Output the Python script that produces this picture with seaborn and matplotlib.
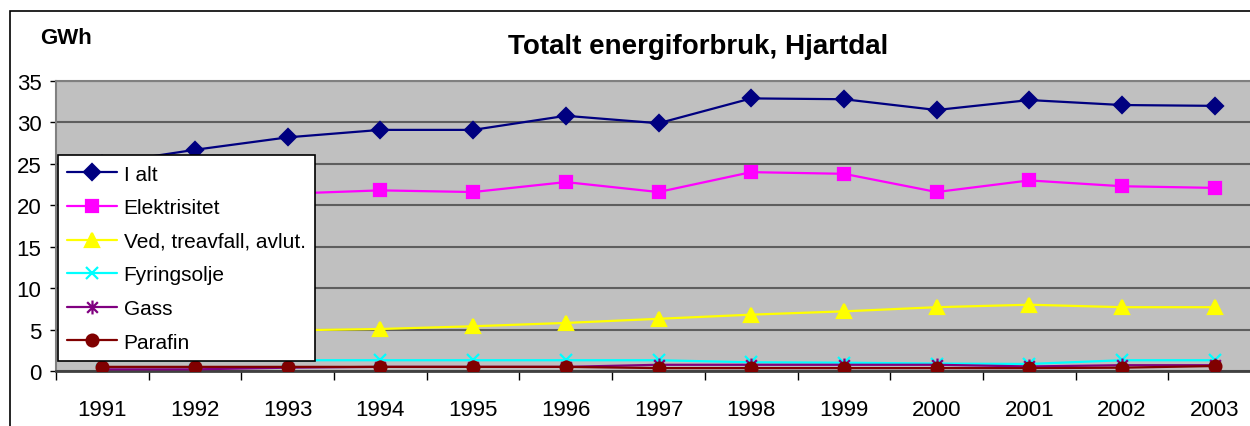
import numpy as np
import seaborn as sns
import matplotlib.pyplot as plt
from matplotlib.patches import Rectangle
from matplotlib.path import Path

years = [1991, 1992, 1993, 1994, 1995, 1996, 1997, 1998, 1999, 2000, 2001, 2002, 2003]
year_labels = [str(y) for y in years]

i_alt = [25.0, 26.7, 28.2, 29.1, 29.1, 30.8, 29.9, 32.9, 32.8, 31.5, 32.7, 32.1, 32.0]
elektrisitet = [19.0, 20.0, 21.4, 21.8, 21.6, 22.8, 21.6, 24.0, 23.8, 21.6, 23.0, 22.3, 22.1]
ved = [4.5, 4.7, 4.9, 5.07, 5.4, 5.8, 6.3, 6.8, 7.2, 7.7, 8.0, 7.7, 7.7]
fyringsolje = [1.3, 1.3, 1.3, 1.3, 1.3, 1.3, 1.3, 1.05, 1.0, 0.9, 0.85, 1.3, 1.3]
gass = [0.2, 0.2, 0.4, 0.5, 0.5, 0.5, 0.75, 0.75, 0.75, 0.75, 0.55, 0.7, 0.7]
parafin = [0.5, 0.5, 0.5, 0.5, 0.5, 0.5, 0.35, 0.35, 0.35, 0.35, 0.35, 0.4, 0.6]

# excel style asterisk: an x with a vertical bar through it
asterisk = Path([(-1, -1), (1, 1), (-1, 1), (1, -1), (0, -1.3), (0, 1.3)],
                [Path.MOVETO, Path.LINETO, Path.MOVETO, Path.LINETO, Path.MOVETO, Path.LINETO])

series = [
    ("I alt", i_alt, "#000080", "D", 8.5),
    ("Elektrisitet", elektrisitet, "#FF00FF", "s", 8.5),
    ("Ved, treavfall, avlut.", ved, "#FFFF00", "^", 9.5),
    ("Fyringsolje", fyringsolje, "#00FFFF", "x", 8),
    ("Gass", gass, "#800080", asterisk, 10),
    ("Parafin", parafin, "#800000", "o", 8.5),
]

sns.set_style("white")
plt.rcParams['font.family'] = ['Liberation Sans', 'DejaVu Sans']
plt.rcParams['text.color'] = 'black'
plt.rcParams['xtick.color'] = 'black'
plt.rcParams['ytick.color'] = 'black'

fig = plt.figure(figsize=(12.5, 4.27), dpi=100)
ax = fig.add_axes([56 / 1250, 1 - 372 / 427, 1205 / 1250, 290 / 427])
ax.set_facecolor('#C0C0C0')

for name, vals, color, marker, ms in series:
    sns.lineplot(x=years, y=vals, ax=ax, color=color, marker=marker, markersize=ms,
                 markeredgecolor=color, markeredgewidth=1.6, linewidth=1.6,
                 label=name, zorder=3)

ax.set_xlim(1990.5, 2003.5)
ax.set_xticks(years)
ax.set_xticklabels(year_labels)
ax.set_xticks(np.arange(1990.5, 2004, 1), minor=True)
ax.tick_params(axis='x', which='major', length=0, pad=20, labelsize=16, bottom=True)
ax.tick_params(axis='x', which='minor', length=6.5, width=1, color='black', bottom=True)
ax.set_ylim(0, 35)
ax.set_yticks(range(0, 36, 5))
ax.tick_params(axis='y', length=4.5, width=1, color='black', pad=6, labelsize=16, left=True)
ax.yaxis.grid(True, color='#5E5E5E', linewidth=1.5)
ax.xaxis.grid(False)
ax.set_axisbelow(True)
ax.set_xlabel('')
ax.set_ylabel('')

for side in ['left', 'top']:
    ax.spines[side].set_color('#808080')
    ax.spines[side].set_linewidth(1.5)
ax.spines['bottom'].set_color('#404040')
ax.spines['bottom'].set_linewidth(2)
ax.spines['right'].set_visible(False)

leg = ax.legend(loc='lower left', bbox_to_anchor=(58 / 1250, 1 - 362 / 427),
                bbox_transform=fig.transFigure, fancybox=False, edgecolor='black',
                framealpha=1, fontsize=15, labelspacing=0.7, borderpad=0.45,
                handlelength=2.4, handletextpad=0.3, borderaxespad=0)
leg.get_frame().set_linewidth(1.2)
for t in leg.get_texts():
    t.set_color('black')

fig.text(698 / 1250, 1 - 47 / 427, 'Totalt energiforbruk, Hjartdal', ha='center', va='center',
         fontsize=20, fontweight='bold')
fig.text(40 / 1250, 1 - 38 / 427, 'GWh', ha='left', va='center', fontsize=16, fontweight='bold')

fig.patches.append(Rectangle((10 / 1250, -0.2), 1.2, 1 - 12 / 427 + 0.2, transform=fig.transFigure,
                             fill=False, edgecolor='black', linewidth=1.2, clip_on=False))

fig.savefig('out.png', dpi=100)
